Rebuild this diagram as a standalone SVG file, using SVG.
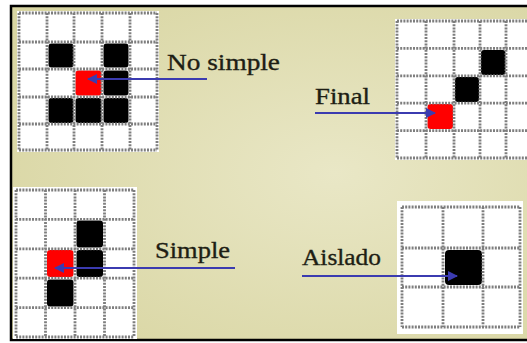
<svg xmlns="http://www.w3.org/2000/svg" width="527" height="343" viewBox="0 0 527 343">
  <defs>
    <radialGradient id="bg" cx="0.6" cy="0.5" r="0.7">
      <stop offset="0" stop-color="#e9e7c6"/>
      <stop offset="1" stop-color="#d9d6a3"/>
    </radialGradient>
    <filter id="soft" x="-5%" y="-5%" width="110%" height="110%">
      <feGaussianBlur stdDeviation="0.7"/>
    </filter>
    <marker id="ah" viewBox="0 0 10 10" refX="9" refY="5" markerWidth="5" markerHeight="5" orient="auto" markerUnits="strokeWidth">
      <path d="M0,0 L10,5 L0,10 z" fill="#3b3bb0"/>
    </marker>
  </defs>
  <style>
    .panel { fill: #ffffff; }
    .gl { stroke: #7e7e7e; stroke-width: 2.8; stroke-dasharray: 2 1.2; fill: none; }
    .blk { fill: #000000; }
    .red { fill: #ff0000; }
    .lbl { font-family: "Liberation Serif", "Times New Roman", serif; font-size: 23px; fill: #1e1e14; stroke: #1e1e14; stroke-width: 0.35; }
    .arr { stroke: #3b3bb0; stroke-width: 2; fill: none; marker-end: url(#ah); }
  </style>
  <rect x="0" y="0" width="527" height="343" fill="#ffffff"/>
  <rect x="11" y="6" width="540" height="334" fill="url(#bg)" stroke="#000" stroke-width="2.5"/>

  <g id="grid-nosimple">
    <rect class="panel" x="17" y="11" width="142" height="141"/>
    <g filter="url(#soft)">
      <rect class="blk" x="48.5" y="43.5" width="25" height="24" rx="3"/>
      <rect class="blk" x="103.5" y="43.5" width="25" height="24" rx="3"/>
      <rect class="blk" x="103.5" y="70.5" width="25" height="25" rx="3"/>
      <rect class="blk" x="48.5" y="98" width="25" height="25" rx="3"/>
      <rect class="blk" x="75.5" y="98" width="26" height="25" rx="3"/>
      <rect class="blk" x="103.5" y="98" width="25" height="25" rx="3"/>
      <rect class="red" x="75.5" y="70.5" width="26" height="25" rx="3"/>
      <path class="gl" d="M19,13V150M47,13V150M74,13V150M102,13V150M130,13V150M157,13V150M19,13H157M19,42H157M19,69H157M19,97H157M19,124H157M19,150H157"/>
    </g>
    <text class="lbl" x="167" y="70" textLength="113" lengthAdjust="spacingAndGlyphs">No simple</text>
  </g>

  <g id="grid-final">
    <rect class="panel" x="395" y="19" width="140" height="141"/>
    <g filter="url(#soft)">
      <rect class="blk" x="481" y="50" width="24.5" height="25" rx="3"/>
      <rect class="blk" x="455" y="77" width="24" height="25" rx="3"/>
      <rect class="red" x="427.5" y="104" width="25.5" height="25" rx="3"/>
      <path class="gl" d="M397,21V158M426,21V158M454,21V158M480,21V158M506,21V158M533,21V158M397,21H533M397,48.4H533M397,75.8H533M397,103.2H533M397,130.6H533M397,158H533"/>
    </g>
    <text class="lbl" x="315" y="104" textLength="55" lengthAdjust="spacingAndGlyphs">Final</text>
  </g>

  <g id="grid-simple">
    <rect class="panel" x="13" y="187" width="124" height="152"/>
    <g filter="url(#soft)">
      <rect class="blk" x="76.5" y="220.5" width="26.5" height="27" rx="3"/>
      <rect class="blk" x="76.5" y="250" width="26.5" height="27" rx="3"/>
      <rect class="blk" x="47" y="279.5" width="26.5" height="27" rx="3"/>
      <rect class="red" x="47" y="250" width="26.5" height="27" rx="3"/>
      <path class="gl" d="M16,190V337M45.5,190V337M75,190V337M104.5,190V337M134,190V337M16,190H134M16,219.4H134M16,248.8H134M16,278.2H134M16,307.6H134M16,337H134"/>
    </g>
    <text class="lbl" x="155" y="258" textLength="75" lengthAdjust="spacingAndGlyphs">Simple</text>
  </g>

  <g id="grid-aislado">
    <rect class="panel" x="397" y="201" width="126" height="133"/>
    <g filter="url(#soft)">
      <rect class="blk" x="445" y="250" width="37" height="35" rx="4"/>
      <path class="gl" d="M402,207V327M443,207V327M483,207V327M520,207V327M402,207H520M402,248H520M402,287H520M402,327H520"/>
    </g>
    <text class="lbl" x="302" y="265" textLength="79" lengthAdjust="spacingAndGlyphs">Aislado</text>
  </g>

  <g id="connectors">
    <line class="arr" x1="207" y1="79" x2="88" y2="79"/>
    <line class="arr" x1="315" y1="113" x2="435" y2="113"/>
    <line class="arr" x1="235" y1="268" x2="55" y2="268"/>
    <line class="arr" x1="302" y1="276" x2="457" y2="276"/>
  </g>
</svg>
